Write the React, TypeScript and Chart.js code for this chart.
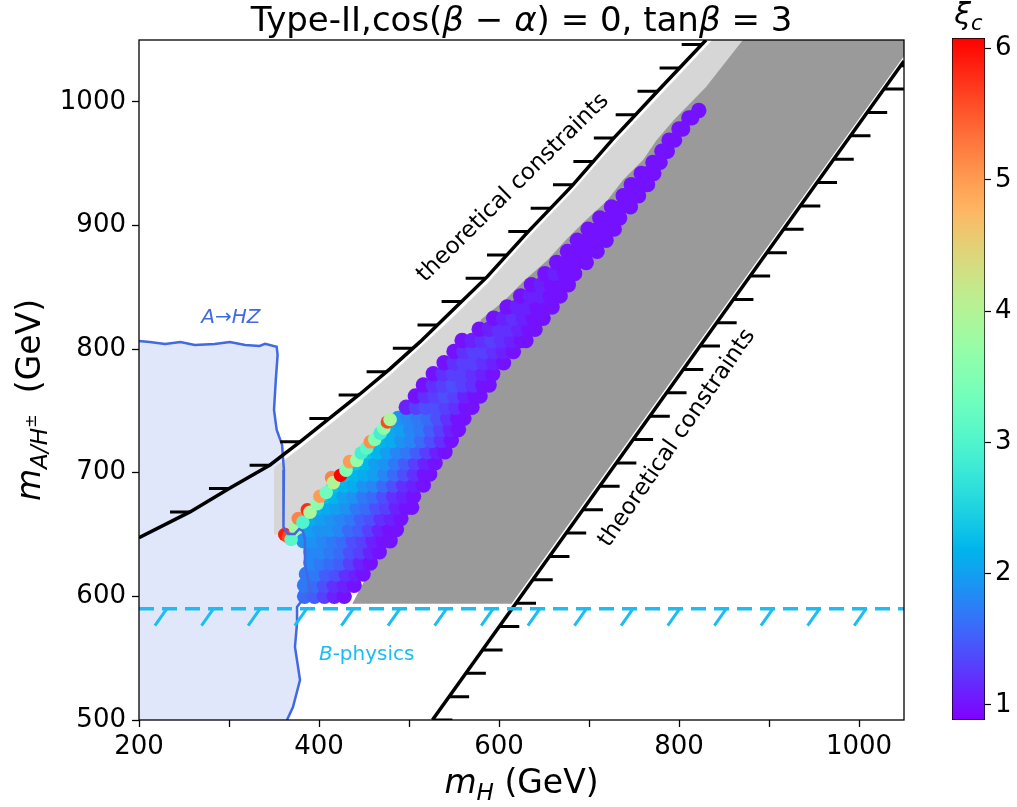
import React, { useEffect, useRef } from 'react';
import { Chart, registerables } from 'chart.js';

Chart.register(...registerables);

const FONT = '"DejaVu Sans", "Liberation Sans", sans-serif';

// ---------- axes ----------
const xRange = [200, 1050];
const yRange = [500, 1050];
const xTickValues = [200, 300, 400, 500, 600, 700, 800, 900, 1000];
const xTickLabels = ['200', '', '400', '', '600', '', '800', '', '1000'];
const yTickValues = [500, 600, 700, 800, 900, 1000];
const yTickLabels = ['500', '600', '700', '800', '900', '1000'];
const xiRange = [0.885, 6.08];
const xiTickValues = [1, 2, 3, 4, 5, 6];
const xiTickLabels = ['1', '2', '3', '4', '5', '6'];

// ---------- A -> HZ excluded region boundary (mH, mA) ----------
const hzBoundary: [number, number][] = [
  [200, 806.6], [212, 805.8], [229, 804.2], [246, 805.8], [262, 803.4], [284, 804.2],
  [301, 805.8], [318, 803.4], [334, 802.6], [340, 804.2], [353, 801.8], [354, 795.3],
  [352, 775.1], [350, 750.8], [353, 734.6], [359, 722.5], [361, 702.3], [360, 678],
  [361, 656.1], [365.6, 650.5], [373, 650.5], [378, 654.5], [382, 652.9], [384.4, 645.6],
  [384.4, 627], [390, 605.2], [375.6, 591.4], [375.6, 578.5], [373.3, 559.1],
  [378.9, 532.4], [371.1, 510.5], [364.4, 500],
];

// ---------- theoretical constraints ----------
const upperConstraint: [number, number][] = [
  [200, 647.5], [256.7, 668.3], [301.1, 687.7], [345.6, 706.3], [378.9, 724.9],
  [412.2, 744.3], [445.6, 763.7], [478.9, 784.0], [512.2, 805.8], [545.6, 829.3],
  [586.7, 858.4], [631.1, 894.0], [681.1, 932.0], [726.7, 970.0], [775.6, 1008.1], [830, 1050],
];
const lowerConstraint: [number, number][] = [[526, 500], [1050, 1033]];
const bPhysicsLimit = 590;
const bPhysicsLine: [number, number][] = [[200, bPhysicsLimit], [1050, bPhysicsLimit]];

// ---------- scanned regions (grey) ----------
const lightGrayRegion: [number, number][] = [
  [350, 650], [350, 704], [379, 720], [412, 739], [446, 759], [479, 779], [512, 801],
  [546, 824], [587, 853], [631, 889], [681, 927], [727, 965], [776, 1003], [837, 1050],
  [880, 1050], [700, 850], [500, 700], [395, 630], [378, 650],
];
const darkGrayRegion: [number, number][] = [
  [437, 594], [470, 640], [510, 700], [545, 760], [575, 810], [580, 824], [607, 840],
  [629, 856], [654, 872], [674, 888], [696, 904], [720, 920], [738, 937], [760, 953],
  [775, 969], [794, 985], [830, 1012], [871, 1050], [1050, 1050], [1050, 1037], [614, 594],
];

// ---------- allowed points: [mH, mA, xi_c] ----------
const bandPoints: [number, number, number][] = [
  [384, 600, 1.6], [395, 600, 1.5], [406, 600, 1.3], [417, 600, 1.1], [428, 600, 1.0],
  [384, 609, 1.7], [395, 609, 1.6], [406, 609, 1.4], [417, 609, 1.2], [428, 609, 1.1], [439, 609, 1.0],
  [386, 618, 1.7], [397, 618, 1.7], [408, 618, 1.5], [419, 618, 1.4], [430, 618, 1.2], [441, 618, 1.1], [449, 618, 1.0],
  [391, 627, 1.8], [402, 627, 1.7], [413, 627, 1.6], [424, 627, 1.5], [435, 627, 1.3], [446, 627, 1.1], [457, 627, 1.0],
  [391, 636, 1.8], [402, 636, 1.8], [413, 636, 1.7], [424, 636, 1.6], [435, 636, 1.4], [446, 636, 1.3], [457, 636, 1.1], [467, 636, 1.0],
  [383, 645, 1.9], [394, 645, 1.9], [405, 645, 1.8], [416, 645, 1.7], [427, 645, 1.6], [438, 645, 1.4], [449, 645, 1.3], [460, 645, 1.1], [471, 645, 1.0], [479, 645, 1.0],
  [390, 654, 2.0], [401, 654, 1.9], [412, 654, 1.9], [423, 654, 1.8], [434, 654, 1.6], [445, 654, 1.5], [456, 654, 1.3], [467, 654, 1.1], [478, 654, 1.0], [486, 654, 1.0],
  [392, 663, 2.1], [403, 663, 2.0], [414, 663, 1.9], [425, 663, 1.8], [436, 663, 1.7], [447, 663, 1.5], [458, 663, 1.4], [469, 663, 1.2], [480, 663, 1.1], [491, 663, 1.0],
  [398, 672, 2.2], [409, 672, 2.1], [420, 672, 2.0], [431, 672, 1.9], [442, 672, 1.7], [453, 672, 1.6], [464, 672, 1.4], [475, 672, 1.3], [486, 672, 1.1], [497, 672, 1.0], [503, 672, 1.0],
  [406, 681, 2.3], [417, 681, 2.2], [428, 681, 2.0], [439, 681, 1.9], [450, 681, 1.7], [461, 681, 1.6], [472, 681, 1.4], [483, 681, 1.2], [494, 681, 1.1], [505, 681, 1.0],
  [417, 690, 2.3], [428, 690, 2.2], [439, 690, 2.1], [450, 690, 1.9], [461, 690, 1.8], [472, 690, 1.6], [483, 690, 1.4], [494, 690, 1.2], [505, 690, 1.1], [516, 690, 1.0],
  [429, 699, 2.3], [440, 699, 2.2], [451, 699, 2.1], [462, 699, 2.0], [473, 699, 1.8], [484, 699, 1.6], [495, 699, 1.4], [506, 699, 1.2], [517, 699, 1.0], [523, 699, 1.0],
  [441, 708, 2.3], [452, 708, 2.2], [463, 708, 2.0], [474, 708, 1.9], [485, 708, 1.7], [496, 708, 1.5], [507, 708, 1.3], [518, 708, 1.1], [529, 708, 1.0],
  [454, 717, 2.3], [465, 717, 2.2], [476, 717, 2.0], [487, 717, 1.8], [498, 717, 1.7], [509, 717, 1.5], [520, 717, 1.3], [531, 717, 1.1], [540, 717, 1.0],
  [470, 726, 2.2], [481, 726, 2.1], [492, 726, 1.9], [503, 726, 1.8], [514, 726, 1.6], [525, 726, 1.4], [536, 726, 1.2], [547, 726, 1.0],
  [480, 735, 2.1], [491, 735, 2.0], [502, 735, 1.8], [513, 735, 1.7], [524, 735, 1.5], [535, 735, 1.3], [546, 735, 1.1], [555, 735, 1.0],
  [488, 744, 1.9], [499, 744, 1.8], [510, 744, 1.7], [521, 744, 1.6], [532, 744, 1.4], [543, 744, 1.2], [554, 744, 1.0], [561, 744, 1.0],
  [497, 753, 1.1], [508, 753, 1.3], [519, 753, 1.4], [530, 753, 1.4], [541, 753, 1.3], [552, 753, 1.2], [563, 753, 1.0], [570, 753, 1.0],
  [507, 762, 1.0], [518, 762, 1.2], [529, 762, 1.3], [540, 762, 1.4], [551, 762, 1.3], [562, 762, 1.1], [573, 762, 1.0], [579, 762, 1.0],
  [516, 771, 1.0], [527, 771, 1.2], [538, 771, 1.3], [549, 771, 1.4], [560, 771, 1.3], [571, 771, 1.2], [582, 771, 1.0], [589, 771, 1.0],
  [527, 780, 1.0], [538, 780, 1.2], [549, 780, 1.3], [560, 780, 1.3], [571, 780, 1.2], [582, 780, 1.1], [593, 780, 1.0],
  [539, 789, 1.0], [550, 789, 1.2], [561, 789, 1.3], [572, 789, 1.3], [583, 789, 1.2], [594, 789, 1.1], [605, 789, 1.0],
  [550, 798, 1.0], [561, 798, 1.2], [572, 798, 1.3], [583, 798, 1.3], [594, 798, 1.2], [605, 798, 1.1], [616, 798, 1.0],
  [559, 807, 1.0], [570, 807, 1.1], [581, 807, 1.2], [592, 807, 1.3], [603, 807, 1.2], [614, 807, 1.1], [625, 807, 1.0], [630, 807, 1.0],
  [578, 816, 1.0], [589, 816, 1.1], [600, 816, 1.2], [611, 816, 1.2], [622, 816, 1.1], [633, 816, 1.0], [640, 816, 1.0],
  [594, 825, 1.0], [605, 825, 1.1], [616, 825, 1.2], [627, 825, 1.1], [638, 825, 1.0], [649, 825, 1.0],
  [609, 834, 1.0], [620, 834, 1.1], [631, 834, 1.1], [642, 834, 1.0], [653, 834, 1.0], [659, 834, 1.0],
  [624, 843, 1.0], [635, 843, 1.1], [646, 843, 1.1], [657, 843, 1.0], [668, 843, 1.0],
  [636, 852, 1.0], [647, 852, 1.1], [658, 852, 1.0], [669, 852, 1.0], [677, 852, 1.0],
  [651, 861, 1.0], [662, 861, 1.1], [673, 861, 1.0], [684, 861, 1.0],
  [664, 870, 1.0], [675, 870, 1.0], [686, 870, 1.0], [697, 870, 1.0],
  [676, 879, 1.0], [687, 879, 1.0], [698, 879, 1.0], [709, 879, 1.0],
  [687, 888, 1.0], [698, 888, 1.0], [709, 888, 1.0], [719, 888, 1.0],
  [699, 897, 1.0], [710, 897, 1.0], [721, 897, 1.0], [728, 897, 1.0],
  [712, 906, 1.0], [723, 906, 1.0], [734, 906, 1.0],
  [725, 915, 1.0], [736, 915, 1.0], [746, 915, 1.0],
  [738, 924, 1.0], [748, 924, 1.0], [755, 924, 1.0],
  [747, 933, 1.0], [757, 933, 1.0], [765, 933, 1.0],
  [758, 942, 1.0], [766, 942, 1.0], [772, 942, 1.0],
  [771, 951, 1.0], [779, 951, 1.0],
  [781, 960, 1.0], [787, 960, 1.0],
  [789, 969, 1.0], [795, 969, 1.0],
  [800, 978, 1.0], [804, 978, 1.0],
  [811, 987, 1.0], [814, 987, 1.0],
  [822, 993, 1.0],
];
const edgePoints: [number, number, number][] = [
  [362, 650, 5.9], [366, 648, 5.6], [369, 646, 3.1], [374, 655, 3.8], [377, 663, 5.2],
  [382, 660, 3.0], [387, 670, 5.8], [390, 668, 3.9], [398, 675, 3.6], [401, 681, 5.0],
  [408, 684, 3.3], [414, 696, 5.2], [416, 692, 4.0], [424, 698, 6.1], [430, 702, 3.5],
  [434, 709, 5.0], [442, 710, 3.7], [447, 716, 2.9], [453, 720, 3.1], [457, 725, 5.1],
  [462, 727, 3.5], [468, 732, 2.9], [472, 736, 3.6], [476, 741, 5.6], [479, 743, 3.9],
];

// ---------- helpers ----------
function rainbow(v: number): string {
  const t = Math.min(1, Math.max(0, (v - xiRange[0]) / (xiRange[1] - xiRange[0])));
  const c = (u: number) => Math.round(255 * Math.min(1, Math.max(0, u)));
  const r = c(Math.abs(2 * t - 0.5));
  const g = c(Math.sin(Math.PI * t));
  const b = c(Math.cos((Math.PI * t) / 2));
  return `rgb(${r},${g},${b})`;
}

type Part = { t: string; italic?: boolean; scale?: number; dy?: number };
function drawRich(ctx: CanvasRenderingContext2D, parts: Part[], x: number, y: number, size: number, color: string, baseline: CanvasTextBaseline = 'alphabetic') {
  const fontOf = (p: Part) => `${p.italic ? 'italic ' : ''}${size * (p.scale ?? 1)}px ${FONT}`;
  let total = 0;
  for (const p of parts) {
    ctx.font = fontOf(p);
    total += ctx.measureText(p.t).width;
  }
  let cx = x - total / 2;
  ctx.fillStyle = color;
  ctx.textAlign = 'left';
  ctx.textBaseline = baseline;
  for (const p of parts) {
    ctx.font = fontOf(p);
    ctx.fillText(p.t, cx, y + (p.dy ?? 0) * size);
    cx += ctx.measureText(p.t).width;
  }
}

const toXY = (arr: [number, number][]) => arr.map(([x, y]) => ({ x, y }));

const hatchPlugin = {
  id: 'constraintHatches',
  afterDatasetsDraw(chart: any) {
    const { ctx, chartArea: ca, scales } = chart;
    const xs = scales.x;
    const ys = scales.y;
    ctx.save();
    ctx.beginPath();
    ctx.rect(ca.left, ca.top, ca.right - ca.left, ca.bottom - ca.top);
    ctx.clip();
    chart.data.datasets.forEach((ds: any, i: number) => {
      const h = ds.hatch;
      if (!h) return;
      const pts = chart.getDatasetMeta(i).data.map((p: any) => [p.x, p.y]);
      ctx.strokeStyle = h.color;
      ctx.lineWidth = h.width;
      ctx.lineCap = 'butt';
      ctx.setLineDash([]);
      ctx.beginPath();
      if (h.kind === 'horizontal') {
        for (let v = h.start; v <= yRange[1] + 1e-6; v += h.step) {
          const py = ys.getPixelForValue(v);
          for (let k = 0; k < pts.length - 1; k++) {
            const [x0, y0] = pts[k];
            const [x1, y1] = pts[k + 1];
            if ((py - y0) * (py - y1) <= 0 && y0 !== y1) {
              const px = x0 + ((x1 - x0) * (py - y0)) / (y1 - y0);
              ctx.moveTo(px, py);
              ctx.lineTo(px + h.dir * h.len, py);
              break;
            }
          }
        }
      } else {
        const py = ys.getPixelForValue(ds.data[0].y);
        for (let v = h.start; v <= xRange[1]; v += h.step) {
          const px = xs.getPixelForValue(v);
          ctx.moveTo(px, py);
          ctx.lineTo(px + h.dx, py + h.dy);
        }
      }
      ctx.stroke();
    });
    ctx.restore();
  },
};

const textPlugin = {
  id: 'texts',
  afterDraw(chart: any) {
    const { ctx, chartArea: ca, scales } = chart;
    const xs = scales.x;
    const ys = scales.y;
    ctx.save();
    // frame
    ctx.strokeStyle = '#000';
    ctx.lineWidth = 1.3;
    ctx.strokeRect(ca.left, ca.top, ca.right - ca.left, ca.bottom - ca.top);
    // title
    const cx = (ca.left + ca.right) / 2;
    drawRich(ctx, [
      { t: 'Type-II,cos(' }, { t: 'β', italic: true }, { t: ' − ' }, { t: 'α', italic: true },
      { t: ') = 0, tan' }, { t: 'β', italic: true }, { t: ' = 3' },
    ], cx, 31, 34, '#000');
    // x title
    drawRich(ctx, [{ t: 'm', italic: true }, { t: 'H', italic: true, scale: 0.7, dy: 0.22 }, { t: ' (GeV)' }], cx, 793, 33, '#000');
    // y title
    ctx.save();
    ctx.translate(40, 400);
    ctx.rotate(-Math.PI / 2);
    drawRich(ctx, [
      { t: 'm', italic: true }, { t: 'A/H', italic: true, scale: 0.7, dy: 0.22 },
      { t: '±', scale: 0.5, dy: -0.12 }, { t: '  (GeV)' },
    ], 0, 0, 33, '#000');
    ctx.restore();
    // annotations
    const rotText = (txt: string, vx: number, vy: number, deg: number) => {
      ctx.save();
      ctx.translate(xs.getPixelForValue(vx), ys.getPixelForValue(vy));
      ctx.rotate((deg * Math.PI) / 180);
      drawRich(ctx, [{ t: txt }], 0, 0, 23, '#000', 'middle');
      ctx.restore();
    };
    rotText('theoretical constraints', 615.6, 930.4, -44.5);
    rotText('theoretical constraints', 797.8, 728.1, -55.5);
    drawRich(ctx, [{ t: 'A', italic: true }, { t: '→' }, { t: 'HZ', italic: true }],
      xs.getPixelForValue(302), ys.getPixelForValue(825), 20, '#4169e1', 'middle');
    drawRich(ctx, [{ t: 'B', italic: true }, { t: '-physics' }],
      xs.getPixelForValue(453), ys.getPixelForValue(553), 20, '#1bbdf2', 'middle');
    ctx.restore();
  },
};

const cbTitlePlugin = {
  id: 'cbTitle',
  afterDraw(chart: any) {
    const { ctx, chartArea: ca } = chart;
    ctx.save();
    drawRich(ctx, [{ t: 'ξ', italic: true }, { t: 'c', italic: true, scale: 0.7, dy: 0.2 }], (ca.left + ca.right) / 2, 24, 30, '#000');
    ctx.restore();
  },
};

export default function App() {
  const mainRef = useRef<HTMLCanvasElement>(null);
  const cbRef = useRef<HTMLCanvasElement>(null);

  useEffect(() => {
    const tickFont = { family: FONT, size: 26 };
    const hidden = 'rgba(0,0,0,0)';
    const main = new Chart(mainRef.current as HTMLCanvasElement, {
      type: 'scatter',
      data: {
        datasets: [
          {
            type: 'line', data: toXY(bPhysicsLine), borderColor: '#1bbdf2', borderWidth: 3.5,
            borderDash: [15, 8], pointRadius: 0, fill: false, order: 1,
            hatch: { kind: 'slant', start: 231, step: 51.8, dx: -12, dy: 17, color: '#1bbdf2', width: 3 },
          } as any,
          {
            type: 'line', data: toXY(upperConstraint), borderColor: '#000', borderWidth: 3.5,
            pointRadius: 0, fill: false, order: 2,
            hatch: { kind: 'horizontal', start: 668.3, step: 18.9, dir: -1, len: 20, color: '#000', width: 3 },
          } as any,
          {
            type: 'line', data: toXY(lowerConstraint), borderColor: '#000', borderWidth: 3.5,
            pointRadius: 0, fill: false, order: 2,
            hatch: { kind: 'horizontal', start: 500, step: 18.9, dir: 1, len: 20, color: '#000', width: 3 },
          } as any,
          {
            type: 'line', data: toXY(hzBoundary), borderColor: '#4169e1', borderWidth: 2.5,
            pointRadius: 0, fill: false, order: 3,
          } as any,
          {
            type: 'scatter', data: edgePoints.map(([x, y, v]) => ({ x, y, v })),
            pointRadius: 6.8, pointBorderWidth: 0,
            pointBackgroundColor: (c: any) => rainbow(c.raw ? c.raw.v : 1), order: 4,
          } as any,
          {
            type: 'scatter', data: bandPoints.map(([x, y, v]) => ({ x, y, v })),
            pointRadius: 7.7, pointBorderWidth: 0,
            pointBackgroundColor: (c: any) => rainbow(c.raw ? c.raw.v : 1), order: 5,
          } as any,
          {
            type: 'line', data: toXY(darkGrayRegion), borderColor: hidden, borderWidth: 0,
            backgroundColor: '#9a9a9a', pointRadius: 0, fill: 'shape', order: 6,
          } as any,
          {
            type: 'line', data: toXY(lightGrayRegion), borderColor: hidden, borderWidth: 0,
            backgroundColor: '#d6d6d6', pointRadius: 0, fill: 'shape', order: 7,
          } as any,
          {
            type: 'line', data: toXY([...hzBoundary, [xRange[0], yRange[0]]]), borderColor: hidden, borderWidth: 0,
            backgroundColor: 'rgba(65,105,225,0.16)', pointRadius: 0, fill: 'shape', order: 8,
          } as any,
        ],
      },
      options: {
        animation: false,
        responsive: false,
        events: [],
        layout: { padding: { left: 0, right: 113, top: 40, bottom: 0 } },
        plugins: { legend: { display: false }, tooltip: { enabled: false }, title: { display: false } },
        scales: {
          x: {
            type: 'linear', min: xRange[0], max: xRange[1],
            afterBuildTicks: (s: any) => { s.ticks = xTickValues.map((v) => ({ value: v })); },
            afterFit: (s: any) => { s.height = 87; },
            ticks: {
              callback: (v: any) => xTickLabels[xTickValues.indexOf(Number(v))] ?? '',
              font: tickFont, color: '#000', padding: 5, maxRotation: 0, autoSkip: false,
            },
            grid: { drawOnChartArea: false, drawTicks: true, tickLength: 7, tickColor: '#000', tickWidth: 1.3 },
            border: { display: false },
          },
          y: {
            type: 'linear', min: yRange[0], max: yRange[1],
            afterBuildTicks: (s: any) => { s.ticks = yTickValues.map((v) => ({ value: v })); },
            afterFit: (s: any) => { s.width = 139; },
            ticks: {
              callback: (v: any) => yTickLabels[yTickValues.indexOf(Number(v))] ?? '',
              font: tickFont, color: '#000', padding: 6, autoSkip: false,
            },
            grid: { drawOnChartArea: false, drawTicks: true, tickLength: 7, tickColor: '#000', tickWidth: 1.3 },
            border: { display: false },
          },
        },
      } as any,
      plugins: [hatchPlugin, textPlugin],
    });

    const cb = new Chart(cbRef.current as HTMLCanvasElement, {
      type: 'bar',
      data: {
        labels: [''],
        datasets: [
          {
            data: [[xiRange[0], xiRange[1]]],
            backgroundColor: (c: any) => {
              const ca = c.chart.chartArea;
              if (!ca) return '#8000ff';
              const g = c.chart.ctx.createLinearGradient(0, ca.bottom, 0, ca.top);
              for (let i = 0; i <= 40; i++) {
                const f = i / 40;
                g.addColorStop(f, rainbow(xiRange[0] + f * (xiRange[1] - xiRange[0])));
              }
              return g;
            },
            borderColor: '#000', borderWidth: 1, borderSkipped: false,
            barPercentage: 1, categoryPercentage: 1,
          } as any,
        ],
      },
      options: {
        animation: false,
        responsive: false,
        events: [],
        layout: { padding: { left: 22, right: 0, top: 38, bottom: 87 } },
        plugins: { legend: { display: false }, tooltip: { enabled: false } },
        scales: {
          x: { display: false },
          y: {
            position: 'right', min: xiRange[0], max: xiRange[1],
            afterBuildTicks: (s: any) => { s.ticks = xiTickValues.map((v) => ({ value: v })); },
            afterFit: (s: any) => { s.width = 32; },
            ticks: {
              callback: (v: any) => xiTickLabels[xiTickValues.indexOf(Number(v))] ?? '',
              font: { family: FONT, size: 26 }, color: '#000', padding: 4,
            },
            grid: { drawOnChartArea: false, drawTicks: true, tickLength: 6, tickColor: '#000', tickWidth: 1.2 },
            border: { display: false },
          },
        },
      } as any,
      plugins: [cbTitlePlugin],
    });

    return () => {
      main.destroy();
      cb.destroy();
    };
  }, []);

  return (
    <div style={{ position: 'fixed', left: 0, top: 0, width: 1017, height: 807, background: '#fff' }}>
      <canvas ref={mainRef} width={1017} height={807} style={{ position: 'absolute', left: 0, top: 0 }} />
      <canvas ref={cbRef} width={87} height={807} style={{ position: 'absolute', left: 930, top: 0 }} />
    </div>
  );
}
